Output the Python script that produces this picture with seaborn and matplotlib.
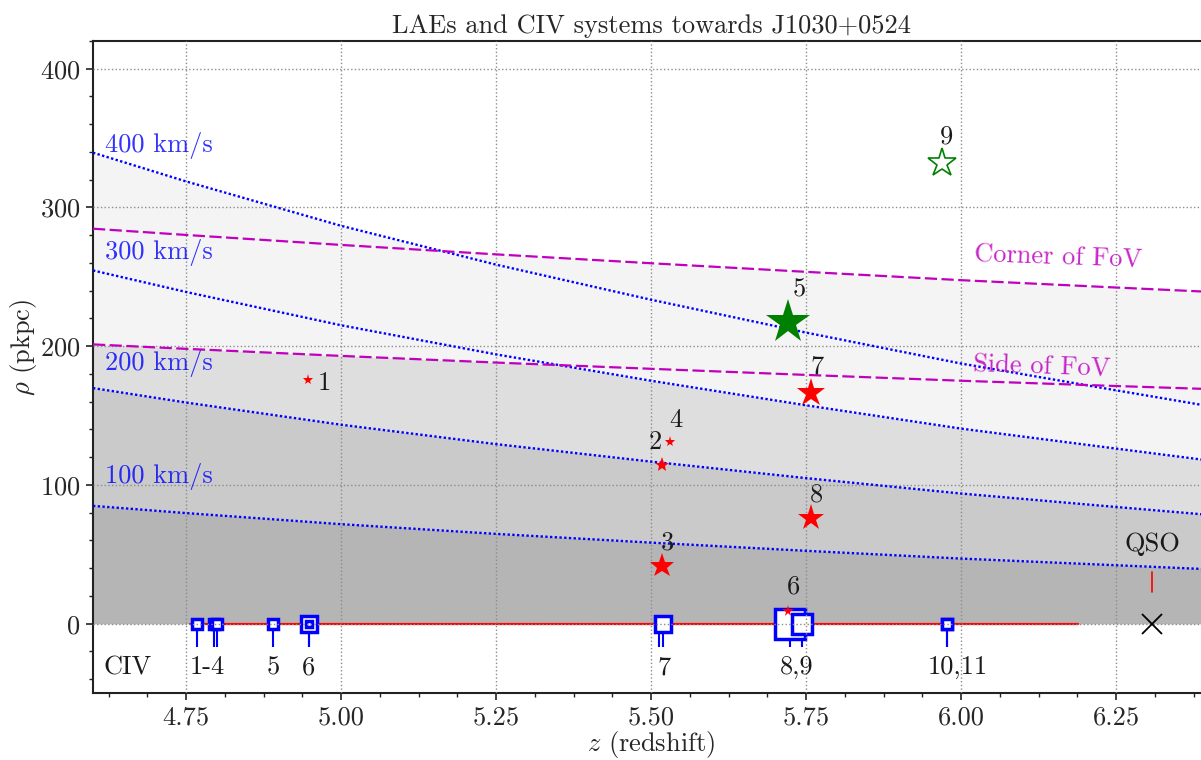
import numpy as np
import pandas as pd
import matplotlib
matplotlib.use("Agg")
import matplotlib.pyplot as plt
from matplotlib.ticker import AutoMinorLocator, FixedLocator
import seaborn as sns

# ---------------------------------------------------------------------------
# Data
# ---------------------------------------------------------------------------
# Redshift grid on which the reference curves are tabulated
z_grid = [4.60, 4.75, 5.00, 5.25, 5.50, 5.75, 6.00, 6.25, 6.40]

# Projected separation equivalent to a given velocity offset (pkpc)
rho_400 = [339.5, 318.8, 286.8, 258.8, 233.5, 209.8, 187.5, 168.2, 156.8]
rho_300 = [254.6, 239.1, 215.1, 194.1, 175.1, 157.4, 140.6, 126.2, 117.6]
rho_200 = [169.8, 159.4, 143.4, 129.4, 116.8, 104.9, 93.8, 84.1, 78.4]
rho_100 = [84.9, 79.7, 71.7, 64.7, 58.4, 52.5, 46.9, 42.1, 39.2]
velocity_labels = ["400 km/s", "300 km/s", "200 km/s", "100 km/s"]

# Field-of-view limits (pkpc)
rho_fov_corner = [284.7, 280.2, 273.0, 266.2, 259.8, 253.6, 247.6, 242.3, 239.2]
rho_fov_side = [201.3, 198.1, 193.0, 188.2, 183.7, 179.3, 175.1, 171.3, 169.1]

# Lyman-alpha emitters
lae_id = ["1", "2", "3", "4", "5", "6", "7", "8", "9"]
lae_z = [4.947, 5.518, 5.518, 5.531, 5.721, 5.721, 5.758, 5.758, 5.969]
lae_rho = [175.5, 114.0, 41.2, 130.6, 217.7, 9.4, 166.5, 76.4, 332.1]

# CIV absorption components along the sightline
civ_z = [4.767, 4.795, 4.800, 4.890, 4.948, 4.948, 5.5137, 5.519,
         5.724, 5.743, 5.977, 5.977]
civ_label_text = ["1-4", "5", "6", "7", "8,9", "10,11"]
civ_label_z = [4.785, 4.890, 4.948, 5.521, 5.735, 5.995]
civ_search_z = [4.756, 6.188]

# Quasar
qso_z = 6.308

# ---------------------------------------------------------------------------
# Styles
# ---------------------------------------------------------------------------
lae_ms = [8, 11, 18.5, 8, 33, 8.5, 21, 20, 21]
lae_colour = ["red", "red", "red", "red", "green", "red", "red", "red", "none"]
lae_edge = ["red", "red", "red", "red", "green", "red", "red", "red", "green"]
lae_label_offset = [(11.5, -2.0), (-5.3, 16.6), (3.9, 17.4), (4.3, 16.4),
                    (8.4, 23.0), (3.6, 17.5), (4.1, 18.9), (3.6, 16.6),
                    (3.6, 18.6)]
civ_ms = [6.7, 6.7, 6.7, 6.7, 12, 5, 5, 11.3, 22, 14.2, 6.7, 6.7]

FS = 19
shade = ["#f4f4f4", "#dedede", "#cacaca", "#b5b5b5"]

sns.set_style("ticks")
plt.rcParams["font.family"] = "serif"
plt.rcParams["font.serif"] = ["cmr10"]
plt.rcParams["mathtext.fontset"] = "cm"
plt.rcParams["axes.unicode_minus"] = False
plt.rcParams["axes.formatter.use_mathtext"] = True

fig = plt.figure(figsize=(12.01, 7.6), dpi=100)
ax = fig.add_axes([93 / 1201, 1 - 693 / 760, (1209 - 93) / 1201, (693 - 41) / 760])

z = np.asarray(z_grid)
v400, v300 = np.asarray(rho_400), np.asarray(rho_300)
v200, v100 = np.asarray(rho_200), np.asarray(rho_100)
corner, side = np.asarray(rho_fov_corner), np.asarray(rho_fov_side)

# Shaded bands
ax.fill_between(z, 0, v400, color=shade[0], lw=0, zorder=0.3)
ax.fill_between(z, 0, corner, color=shade[0], lw=0, zorder=0.3)
ax.fill_between(z, 0, v300, color=shade[1], lw=0, zorder=0.4)
ax.fill_between(z, side, v300, where=v300 > side, interpolate=True,
                color=shade[0], lw=0, zorder=0.45)
ax.fill_between(z, 0, v200, color=shade[2], lw=0, zorder=0.5)
ax.fill_between(z, 0, v100, color=shade[3], lw=0, zorder=0.6)

# Velocity curves and FoV limits
curves = pd.DataFrame({"z": np.tile(z, 4),
                       "rho": np.concatenate([v400, v300, v200, v100]),
                       "v": np.repeat(velocity_labels, len(z))})
for lab in velocity_labels:
    sub = curves[curves["v"] == lab]
    sns.lineplot(data=sub, x="z", y="rho", ax=ax, color="blue",
                 linestyle=(0, (1, 1)), linewidth=1.7, zorder=2.6)
for fov in (corner, side):
    sns.lineplot(x=z, y=fov, ax=ax, color="m", linestyle=(0, (5.5, 2)),
                 linewidth=1.6, zorder=2.6)

label_rho = [345, 267.5, 187.4, 106.3]
for lab, yv in zip(velocity_labels, label_rho):
    ax.text(4.619, yv, lab, color="blue", alpha=0.8, fontsize=FS,
            ha="left", va="center")
ax.text(6.156, 264.1, "Corner of FoV", color="m", alpha=0.85, fontsize=FS,
        ha="center", va="center", rotation=-2, rotation_mode="anchor")
ax.text(6.131, 185.0, "Side of FoV", color="m", alpha=0.85, fontsize=FS,
        ha="center", va="center", rotation=-2, rotation_mode="anchor")

# CIV systems
ax.plot(civ_search_z, [0, 0], color="red", lw=1.6, zorder=2.1)
ax.vlines(civ_z, -17, 0, colors="blue", lw=1.5, zorder=2.0)
for zc, ms in zip(civ_z, civ_ms):
    ax.plot([zc], [0], marker="s", ms=ms, mfc="white", mec="blue",
            mew=2.5, ls="none", zorder=2.2)
ax.text(4.656, -31.7, "CIV", fontsize=FS, ha="center", va="center",
        color="#1a1a1a")
for txt, zc in zip(civ_label_text, civ_label_z):
    ax.text(zc, -31.7, txt, fontsize=FS, ha="center", va="center",
            color="#1a1a1a")

# Quasar
ax.plot([qso_z], [0], marker="x", ms=14, mec="black", mew=1.3, ls="none",
        zorder=3)
ax.plot([qso_z, qso_z], [23, 37], color="red", lw=1.2, zorder=3)
ax.text(qso_z, 57, "QSO", fontsize=FS, ha="center", va="center",
        color="#1a1a1a")

# LAEs
for i in range(len(lae_id)):
    ax.plot([lae_z[i]], [lae_rho[i]], marker="*", ms=lae_ms[i],
            mfc=lae_colour[i], mec=lae_edge[i],
            mew=1.2 if lae_colour[i] == "none" else 0, ls="none", zorder=3)
    ax.annotate(lae_id[i], (lae_z[i], lae_rho[i]), xytext=lae_label_offset[i],
                textcoords="offset points", ha="center", va="center",
                fontsize=FS, color="#1a1a1a", zorder=3)

# Axes
ax.set_xlim(4.6, 6.4)
ax.set_ylim(-50, 420)
ax.xaxis.set_major_locator(FixedLocator([4.75, 5.0, 5.25, 5.5, 5.75, 6.0, 6.25]))
ax.yaxis.set_major_locator(FixedLocator([0, 100, 200, 300, 400]))
ax.xaxis.set_minor_locator(AutoMinorLocator(4))
ax.yaxis.set_minor_locator(AutoMinorLocator(5))
ax.set_xticklabels(["4.75", "5.00", "5.25", "5.50", "5.75", "6.00", "6.25"])
ax.set_axisbelow(False)
ax.grid(True, which="major", color="#8c8c8c", linestyle=":", linewidth=1.0)
ax.tick_params(which="major", length=5, width=1.2, direction="out",
               labelsize=FS, color="#222222", pad=4)
ax.tick_params(which="minor", length=3, width=1.0, direction="out",
               color="#222222")
for s in ax.spines.values():
    s.set_linewidth(1.5)
    s.set_color("#222222")

ax.set_xlabel("$z$ (redshift)", fontsize=FS, labelpad=0)
ax.set_ylabel(r"$\rho$ (pkpc)", fontsize=FS)
ax.yaxis.set_label_coords(-0.048, 0.53)
ax.set_title("LAEs and CIV systems towards J1030+0524", fontsize=FS)

fig.savefig("out.png", dpi=100)
